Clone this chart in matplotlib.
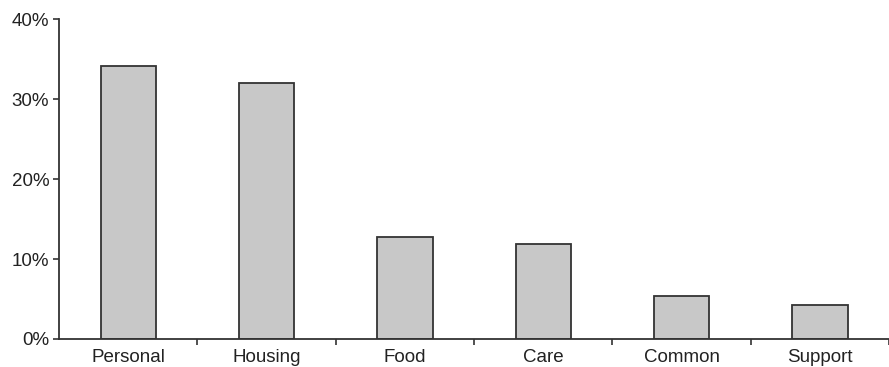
import matplotlib.pyplot as plt
import numpy as np
from matplotlib.ticker import PercentFormatter

plt.rcParams['font.family'] = ['Liberation Sans', 'DejaVu Sans']

categories = ['Personal', 'Housing', 'Food', 'Care', 'Common', 'Support']
shares = [34.1, 32.0, 12.7, 11.9, 5.4, 4.2]

fig = plt.figure(figsize=(8.89, 3.67), dpi=100)
ax = fig.add_axes([0.0664, 0.0763, 0.9336, 0.8719])

x = np.arange(len(categories))
ax.bar(x, shares, width=0.4, color='#c8c8c8', edgecolor='#333333', linewidth=1.3, zorder=2)

ax.set_xlim(-0.5, len(categories) - 0.5)
ax.set_ylim(0, 40)
ax.set_yticks([0, 10, 20, 30, 40])
ax.yaxis.set_major_formatter(PercentFormatter(decimals=0))

ax.set_xticks(x)
ax.set_xticklabels(categories)
ax.set_xticks(np.arange(len(categories)) + 0.5, minor=True)
ax.tick_params(axis='x', which='major', length=0, pad=7)
ax.tick_params(axis='x', which='minor', length=4, width=1.2, color='#333333', direction='out')
ax.tick_params(axis='y', length=4, width=1.2, color='#333333', pad=3)
ax.tick_params(labelsize=13.5, labelcolor='#222222')

for side in ['top', 'right']:
    ax.spines[side].set_visible(False)
for side in ['left', 'bottom']:
    ax.spines[side].set_color('#333333')
    ax.spines[side].set_linewidth(1.3)

plt.savefig('out.png', dpi=100)
